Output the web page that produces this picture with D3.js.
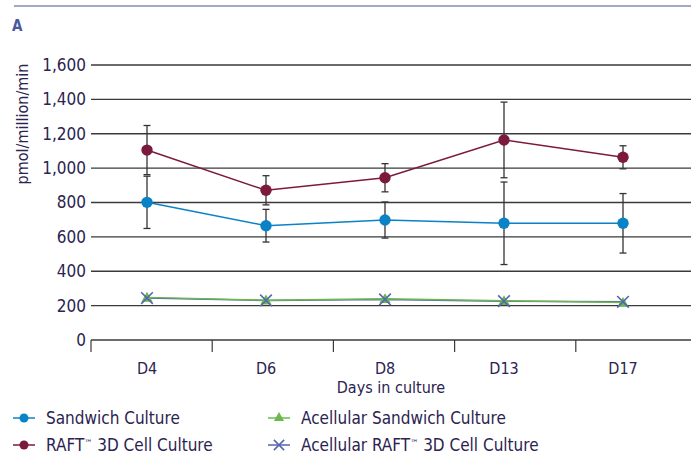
<!DOCTYPE html>
<html><head><meta charset="utf-8">
<script src="https://cdn.jsdelivr.net/npm/d3@7"></script>
<style>
body{margin:0;background:#fff;}
text{font-family:"Liberation Sans Narrow","DejaVu Sans Condensed","Roboto",sans-serif;}
</style></head>
<body><svg id="c" width="691" height="454"></svg>
<script>
const days = ["D4","D6","D8","D13","D17"];
const yTicks = [0,200,400,600,800,1000,1200,1400,1600];
const sandwich = [801,665,698,679,679];
const sandwichErr = [152,95,105,240,173];
const raft = [1105,871,944,1164,1063];
const raftErr = [143,85,82,220,67];
const acellSandwich = [248,232,240,228,218];
const acellRaft = [244,230,236,226,222];
const legendNames = ["Sandwich Culture","RAFT\u2122 3D Cell Culture","Acellular Sandwich Culture","Acellular RAFT\u2122 3D Cell Culture"];

const textCol = "#2b2350";
const cBlue = "#0a82c6", cMaroon = "#7c1a3e", cGreen = "#6cb84c", cX = "#5566b0";

const svg = d3.select("#c");
svg.append("line").attr("x1",14).attr("x2",691).attr("y1",6).attr("y2",6).attr("stroke","#a3a8c9").attr("stroke-width",2);
svg.append("text").attr("x",12).attr("y",31).attr("fill","#4b58a0").attr("font-weight","bold").attr("font-size",15).text("A");

const y = d3.scaleLinear().domain([0,1600]).range([340,65]);
const xBand = d3.scaleBand().domain(days).range([91,697]);
const x = d3.scalePoint().domain(days).range([147,623]);

svg.append("g").selectAll("line").data(yTicks.filter(d=>d>0)).join("line")
  .attr("x1",91).attr("x2",691).attr("y1",d=>y(d)).attr("y2",d=>y(d))
  .attr("stroke","#3a3a3a").attr("stroke-width",1.4);

svg.append("g").selectAll("text").data(yTicks).join("text")
  .attr("x",86).attr("y",d=>y(d)).attr("dy","0.35em").attr("text-anchor","end")
  .attr("font-size",17).attr("fill",textCol).text(d=>d3.format(",")(d));

svg.append("text").attr("transform","translate(28,124) rotate(-90)").attr("text-anchor","middle")
  .attr("font-size",16).attr("fill",textCol).text("pmol/million/min");

const xAxis = d3.axisBottom(xBand).tickSize(12).tickFormat("");
const gx = svg.append("g").attr("transform","translate(0,340)").call(xAxis);
gx.select(".domain").remove();
gx.selectAll(".tick").attr("transform",d=>`translate(${xBand(d)},0)`);
gx.selectAll(".tick line").attr("stroke","#3a3a3a").attr("stroke-width",1.2);
svg.append("line").attr("x1",91).attr("x2",691).attr("y1",340).attr("y2",340).attr("stroke","#3a3a3a").attr("stroke-width",1.4);
svg.append("g").selectAll("text").data(days).join("text")
  .attr("x",d=>x(d)).attr("y",374).attr("text-anchor","middle").attr("font-size",16).attr("fill",textCol).text(d=>d);
svg.append("text").attr("x",391).attr("y",393).attr("text-anchor","middle").attr("font-size",16).attr("fill",textCol).text("Days in culture");

const line = d3.line().x((d,i)=>x(days[i])).y(d=>y(d));

function errbars(vals, errs){
  const g = svg.append("g").attr("stroke","#333").attr("stroke-width",1.3);
  vals.forEach((v,i)=>{
    const cx = x(days[i]);
    g.append("line").attr("x1",cx).attr("x2",cx).attr("y1",y(v+errs[i])).attr("y2",y(v-errs[i]));
    [v+errs[i], v-errs[i]].forEach(e=>g.append("line").attr("x1",cx-3.5).attr("x2",cx+3.5).attr("y1",y(e)).attr("y2",y(e)));
  });
}
errbars(sandwich,sandwichErr);
errbars(raft,raftErr);

svg.append("path").datum(acellRaft).attr("d",line).attr("fill","none").attr("stroke",cX).attr("stroke-width",1.5);
svg.append("path").datum(acellSandwich).attr("d",line).attr("fill","none").attr("stroke",cGreen).attr("stroke-width",1.5);
const tri = d3.symbol().type(d3.symbolTriangle).size(55);
svg.append("g").selectAll("path").data(acellSandwich).join("path").attr("d",tri)
  .attr("transform",(d,i)=>`translate(${x(days[i])},${y(d)+1})`).attr("fill",cGreen);
const cross = d3.symbol().type(d3.symbolX).size(90);
svg.append("g").selectAll("path").data(acellRaft).join("path").attr("d",cross)
  .attr("transform",(d,i)=>`translate(${x(days[i])},${y(d)})`).attr("fill","none").attr("stroke",cX).attr("stroke-width",1.6);

[[sandwich,cBlue],[raft,cMaroon]].forEach(([vals,c])=>{
  svg.append("path").datum(vals).attr("d",line).attr("fill","none").attr("stroke",c).attr("stroke-width",1.5);
  svg.append("g").selectAll("circle").data(vals).join("circle")
    .attr("cx",(d,i)=>x(days[i])).attr("cy",d=>y(d)).attr("r",5.7).attr("fill",c);
});

const leg = [
  {name:legendNames[0],c:cBlue,m:"circle",x:13,y:418},
  {name:legendNames[1],c:cMaroon,m:"circle",x:13,y:445},
  {name:legendNames[2],c:cGreen,m:"tri",x:268,y:418},
  {name:legendNames[3],c:cX,m:"x",x:268,y:445}
];
const lg = svg.append("g").selectAll("g").data(leg).join("g").attr("transform",d=>`translate(${d.x},${d.y})`);
lg.append("line").attr("x1",0).attr("x2",22).attr("stroke",d=>d.c).attr("stroke-width",1.5);
lg.filter(d=>d.m==="circle").append("circle").attr("cx",11).attr("r",4.5).attr("fill",d=>d.c);
lg.filter(d=>d.m==="tri").append("path").attr("d",d3.symbol().type(d3.symbolTriangle).size(45)).attr("transform","translate(11,0)").attr("fill",d=>d.c);
lg.filter(d=>d.m==="x").append("path").attr("d",d3.symbol().type(d3.symbolX).size(70)).attr("transform","translate(11,0)").attr("fill","none").attr("stroke",d=>d.c).attr("stroke-width",1.5);
lg.append("text").attr("x",33).attr("y",6).attr("font-size",17).attr("fill",textCol)
  .each(function(d){
    const t = d3.select(this);
    const parts = d.name.split("\u2122");
    t.append("tspan").text(parts[0]);
    if(parts.length>1){
      t.append("tspan").attr("font-size",9).attr("dy",-5).text("\u2122");
      t.append("tspan").attr("dy",5).text(parts[1]);
    }
  });
</script></body></html>
